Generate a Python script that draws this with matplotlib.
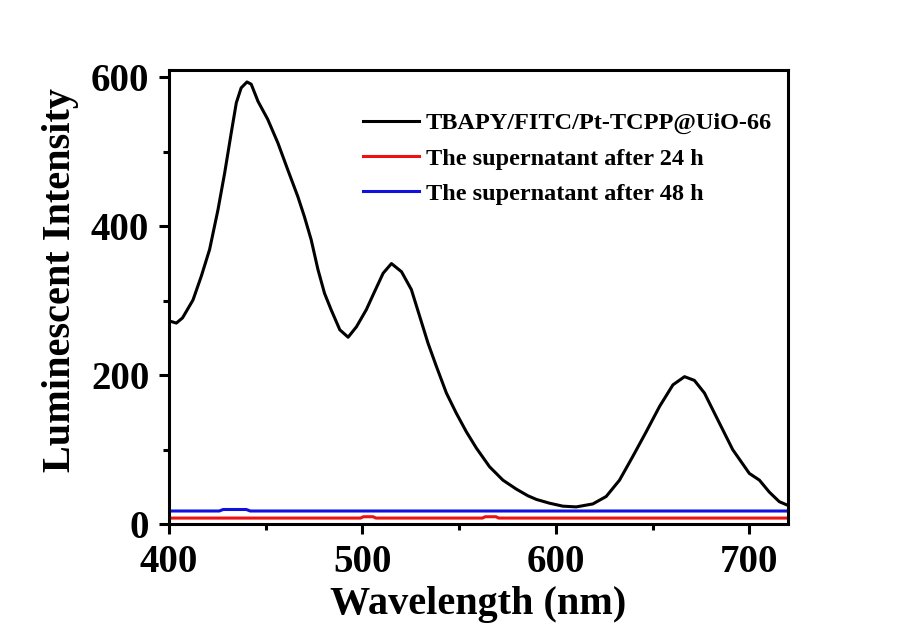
import numpy as np
import matplotlib
matplotlib.use('Agg')
import matplotlib.pyplot as plt
from matplotlib.ticker import MultipleLocator

# spectra
wl_main = [400, 403.8, 407, 412.4, 416.7, 421, 425.3, 428.8, 432.2, 434.8, 437.3,
           440.3, 442.5, 446, 451, 456.3, 461.4, 466.6, 470, 473.5, 477, 480.4,
           483.8, 488.3, 492.6, 496.9, 502, 506.4, 510.7, 515, 520.2, 525.3,
           529.6, 533.9, 538.2, 543.4, 548.5, 553.7, 558.9, 565.7, 572.6, 579.5,
           585.5, 590, 596.7, 603.6, 610.5, 619.1, 626, 632.9, 639.8, 646.7,
           653.6, 660.5, 666.5, 671.6, 676.8, 683.7, 691.4, 700, 705.2, 710.3,
           715.5, 720]
int_main = [273, 270, 277, 301, 333, 369, 422, 472, 526, 566, 586,
            594, 591, 568, 544, 512, 476, 440, 413, 382, 342, 310,
            288, 261, 251, 265, 288, 313, 337, 350, 339, 315,
            279, 243, 212, 176, 149, 124, 102, 77, 59, 47,
            38, 33, 28, 24, 23, 27, 37, 59, 91, 124,
            158, 187, 198, 193, 176, 140, 100, 68, 59, 43,
            30, 25]

wl_24 = [400, 499, 500.5, 505.5, 507, 562, 563.5, 569, 570.5, 720]
int_24 = [8, 8, 9.8, 9.8, 8, 8, 9.8, 9.8, 8, 8]

wl_48 = [400, 426, 428, 440, 442, 720]
int_48 = [17.5, 17.5, 19.5, 19.5, 17.5, 17.5]

labels = ['TBAPY/FITC/Pt-TCPP@UiO-66',
          'The supernatant after 24 h',
          'The supernatant after 48 h']

plt.rcParams['font.family'] = ['Liberation Serif', 'DejaVu Serif']
plt.rcParams['font.weight'] = 'bold'

fig = plt.figure(figsize=(8.97, 6.26), dpi=100)
ax = fig.add_axes([0.1884, 0.1629, 0.6901, 0.7252])

ax.plot(wl_main, int_main, color='black', lw=2.2, label=labels[0])
ax.plot(wl_24, int_24, color='#ee1111', lw=2.2, label=labels[1])
ax.plot(wl_48, int_48, color='#1111dd', lw=2.2, label=labels[2])

ax.set_xlim(400, 720)
ax.set_ylim(0, 610)
ax.xaxis.set_major_locator(MultipleLocator(100))
ax.xaxis.set_minor_locator(MultipleLocator(50))
ax.yaxis.set_major_locator(MultipleLocator(200))
ax.yaxis.set_minor_locator(MultipleLocator(100))

for s in ax.spines.values():
    s.set_linewidth(2.2)
ax.tick_params(which='major', direction='out', length=7.2, width=2.2, labelsize=28)
ax.tick_params(which='minor', direction='out', length=4, width=2.2)
ax.tick_params(axis='x', pad=7.5)
ax.tick_params(axis='y', pad=7)

ax.set_xlabel('Wavelength (nm)', fontsize=29, fontweight='bold', labelpad=3)
ax.set_ylabel('Luminescent Intensity', fontsize=29, fontweight='bold')
ax.yaxis.set_label_coords(-0.145, 0.537)

ax.legend(loc='upper left', frameon=False,
          prop={'weight': 'bold', 'size': 17.5}, handlelength=2.3,
          handletextpad=0.3, borderpad=0, borderaxespad=0,
          bbox_to_anchor=(0.313, 0.907), labelspacing=0.54)

fig.savefig('out.png', dpi=100)
